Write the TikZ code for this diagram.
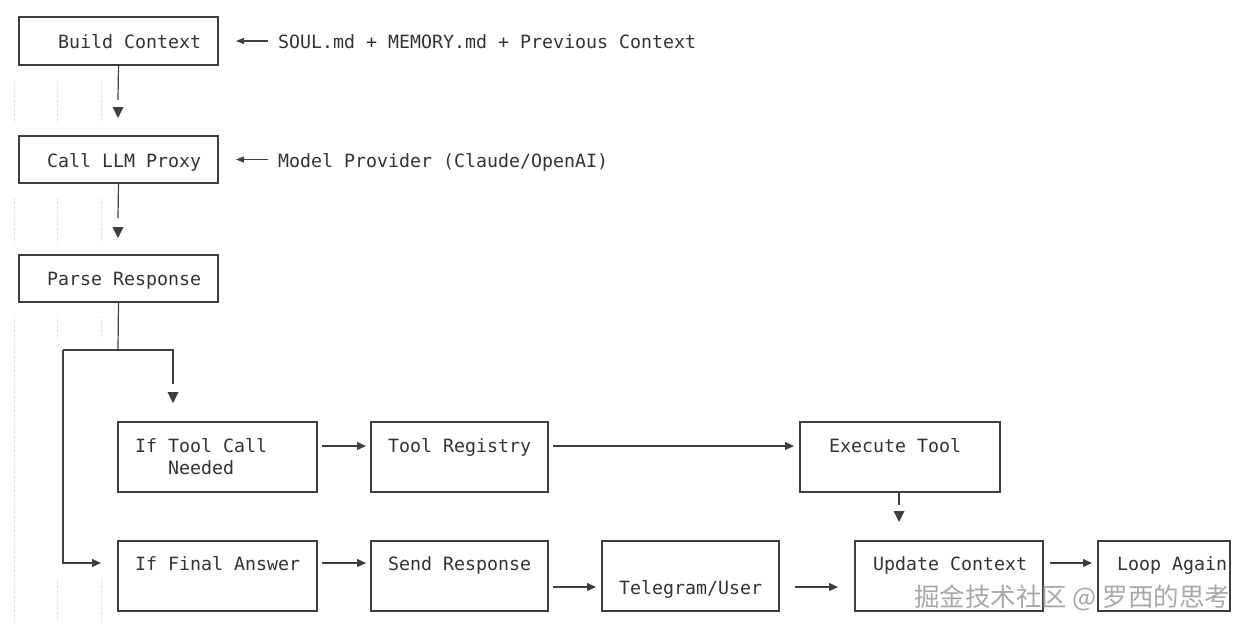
\documentclass[tikz,border=0pt]{standalone}
\usepackage{fontspec}
\newfontfamily\monof{DejaVu Sans Mono}
\newfontfamily\cjkf{Noto Sans CJK SC}
\usetikzlibrary{arrows.meta}
\definecolor{ln}{HTML}{3F3F3F}
\definecolor{tx}{HTML}{333333}
\definecolor{guide}{HTML}{D2D2D2}
\definecolor{wm}{HTML}{A8A8A8}
\tikzset{
  box/.style={draw=ln, line width=1.3pt, anchor=north west, inner sep=0pt, outer sep=0pt},
  txt/.style={anchor=base west, inner sep=0pt, text=tx, font=\monof\fontsize{18.27}{22}\selectfont},
  conn/.style={draw=ln, line width=1.2pt},
  rarr/.style={conn, -{Triangle[length=9pt,width=8pt]}},
  larr/.style={conn, -{Triangle[length=8pt,width=6pt]}},
  gd/.style={draw=guide, line width=0.7pt, dash pattern=on 1pt off 1.5pt},
  dtip/.pic={\fill[ln] (0,0) -- (-5.5,-11) -- (5.5,-11) -- cycle;}
}
\begin{document}
\begin{tikzpicture}[x=1pt,y=-1pt]
\useasboundingbox (0,0) rectangle (1245,632);
% indentation guides
\foreach \gx in {14,57,101}{
  \draw[gd] (\gx,81) -- (\gx,122);
  \draw[gd] (\gx,199) -- (\gx,243);
}
\draw[gd] (14,317) -- (14,623);
\foreach \gx in {57,101}{
  \draw[gd] (\gx,317) -- (\gx,338);
  \draw[gd] (\gx,578) -- (\gx,623);
}
% boxes
\node[box, minimum width=199, minimum height=48] (b1) at (19,17) {};
\node[box, minimum width=199, minimum height=47] (b2) at (19,136) {};
\node[box, minimum width=199, minimum height=47] (b3) at (19,255) {};
\node[box, minimum width=199, minimum height=70] (b4) at (118,422) {};
\node[box, minimum width=199, minimum height=70] (b5) at (118,541) {};
\node[box, minimum width=177, minimum height=70] (b6) at (371,422) {};
\node[box, minimum width=177, minimum height=70] (b7) at (371,541) {};
\node[box, minimum width=177, minimum height=70] (b8) at (602,541) {};
\node[box, minimum width=200, minimum height=70] (b9) at (800,422) {};
\node[box, minimum width=188, minimum height=70] (b10) at (855,541) {};
\node[box, minimum width=132, minimum height=70] (b11) at (1098,541) {};
% texts
\node[txt] (t1) at (58,48) {Build Context};
\node[txt] (s1) at (278,48) {SOUL.md + MEMORY.md + Previous Context};
\node[txt] (t2) at (47,167) {Call LLM Proxy};
\node[txt] (s2) at (278,167) {Model Provider (Claude/OpenAI)};
\node[txt] (t3) at (47,285) {Parse Response};
\node[txt] (t4a) at (135,452) {If Tool Call};
\node[txt] (t4b) at (168,474) {Needed};
\node[txt] (t5) at (135,570) {If Final Answer};
\node[txt] (t6) at (388,452) {Tool Registry};
\node[txt] (t7) at (388,570) {Send Response};
\node[txt] (t8) at (619,594) {Telegram/User};
\node[txt] (t9) at (829,452) {Execute Tool};
\node[txt] (t10) at (873,570) {Update Context};
\node[txt] (t11) at (1117,570) {Loop Again};
% side inputs
\draw[larr] ([xshift=-10pt]s1.west |- b1.east) -- ([xshift=18pt]b1.east);
\draw[larr] ([xshift=-10pt]s2.west |- b2.east) -- ([xshift=18pt]b2.east);
% vertical flow
\coordinate (c1) at (118,100);
\draw[conn] (b1.south) -- (c1);
\pic at (118,118) {dtip};
\coordinate (c2) at (118,218);
\draw[conn] (b2.south) -- (c2);
\pic at (118,238) {dtip};
% branch
\coordinate (split) at (118,350);
\coordinate (bl) at (63,350);
\coordinate (br) at (173,350);
\coordinate (brend) at (173,384);
\coordinate (fin) at (101,563);
\draw[conn] (b3.south) -- (split);
\draw[conn] (bl) -- (br) -- (brend);
\pic at (173,403) {dtip};
\draw[rarr] (bl) |- (fin);
% horizontal flow
\draw[rarr] ([shift={(5,24)}]b4.north east) -- ([shift={(-5,24)}]b6.north west);
\draw[rarr] ([shift={(5,24)}]b6.north east) -- ([shift={(-6,24)}]b9.north west);
\coordinate (c9) at (899,505);
\draw[conn] (b9.south -| c9) -- (c9);
\pic at (899,522) {dtip};
\draw[rarr] ([shift={(5,22)}]b5.north east) -- ([shift={(-5,22)}]b7.north west);
\draw[rarr] ([shift={(5,46)}]b7.north east) -- ([shift={(-6,46)}]b8.north west);
\draw[rarr] ([shift={(16,46)}]b8.north east) -- ([shift={(-17,46)}]b10.north west);
\draw[rarr] ([shift={(7,22)}]b10.north east) -- ([shift={(-6,22)}]b11.north west);
% watermark
\node[anchor=base west, inner sep=0pt, text=wm, font=\cjkf\fontsize{25.5}{28}\selectfont] (wmk) at (914,606) {掘金技术社区 @ 罗西的思考};
\end{tikzpicture}
\end{document}
